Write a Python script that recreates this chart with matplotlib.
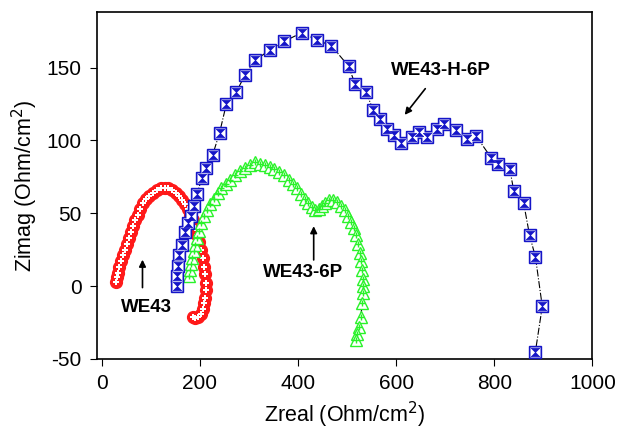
import matplotlib.pyplot as plt
import numpy as np
from matplotlib.path import Path

plt.rcParams['font.family'] = ['Liberation Sans', 'DejaVu Sans']
plt.rcParams['axes.unicode_minus'] = False

# WE43 (red)
we43_x = [30, 31, 33, 36, 40, 44, 48, 52, 56, 60, 64, 68, 73, 78, 84, 90, 97, 104, 112, 120,
          128, 136, 144, 151, 157, 163, 169, 175, 180, 185, 190, 195, 199, 203, 206, 209, 211,
          212, 212, 211, 209, 206, 202, 197, 191, 185]
we43_y = [3, 6, 9, 13, 17, 21, 25, 29, 33, 37, 41, 45, 49, 53, 57, 60, 62, 64, 66, 67,
          67, 67, 66, 64, 62, 59, 56, 53, 49, 45, 40, 35, 30, 25, 19, 13, 8,
          2, -3, -8, -12, -16, -19, -21, -22, -21]

# WE43-6P (green)
p6_x = [178, 180, 182, 184, 187, 190, 194, 198, 203, 208, 214, 221, 228, 236, 244, 253, 262,
        272, 282, 292, 302, 312, 322, 332, 342, 352, 362, 372, 381, 390, 398, 406, 414, 421,
        428, 435, 442, 449, 456, 463, 471, 479, 487, 495, 502, 508, 514, 519, 523, 526, 529,
        531, 532, 533, 533, 531, 528, 524, 520, 518]
p6_y = [7, 11, 15, 19, 24, 28, 33, 38, 43, 48, 52, 56, 60, 64, 67, 70, 73,
        76, 79, 81, 83, 85, 84, 83, 82, 80, 78, 76, 73, 70, 67, 63, 60, 57,
        54, 52, 53, 55, 57, 59, 59, 58, 55, 52, 48, 44, 40, 35, 29, 23, 17,
        11, 5, 0, -5, -12, -21, -28, -33, -37]

# WE43-H-6P (blue)
h6p_x = [154, 154, 156, 158, 164, 170, 176, 182, 188, 194, 204, 212, 226, 240, 254, 274, 292,
         313, 342, 372, 408, 438, 468, 503, 516, 539, 553, 567, 581, 595, 611, 632, 646, 664,
         684, 698, 722, 745, 763, 794, 808, 832, 840, 860, 872, 884, 898, 884]
h6p_y = [0, 7, 14, 21, 28, 37, 43, 48, 55, 63, 74, 81, 90, 105, 125, 133, 145,
         155, 162, 168, 174, 169, 165, 151, 139, 133, 121, 115, 108, 104, 98, 102, 106, 102,
         108, 111, 107, 101, 103, 88, 84, 80, 65, 57, 35, 20, -14, -45]

# hourglass marker
bowtie = Path([(-1, 1), (1, 1), (-1, -1), (1, -1), (-1, 1)],
              [Path.MOVETO, Path.LINETO, Path.LINETO, Path.LINETO, Path.CLOSEPOLY])

fig = plt.figure(figsize=(6.17, 4.36), dpi=100)
ax = fig.add_axes([0.157, 0.177, 0.803, 0.795])

# thin black connecting lines
for xs, ys in [(we43_x, we43_y), (p6_x, p6_y), (h6p_x, h6p_y)]:
    ax.plot(xs, ys, color='black', lw=0.8, ls='-.', zorder=1)

# red circles
ax.plot(we43_x, we43_y, 'o', ms=8.5, mfc='#ff1a1a', mec='#ff1a1a', zorder=2)
ax.plot(we43_x, we43_y, 'P', ms=4.5, mfc='white', mec='white', mew=0, zorder=2)

# green triangles
ax.plot(p6_x, p6_y, '^', ms=8, mfc='white', mec='#2af22a', mew=1.0, zorder=3)
ax.plot(p6_x, p6_y, '+', ms=4.5, mec='#2af22a', mew=1.0, zorder=3)

# blue squares
ax.plot(h6p_x, h6p_y, 's', ms=9, mfc='#1515c8', mec='#1515c8', zorder=4)
ax.plot(h6p_x, h6p_y, 's', ms=7, mfc='white', mec='none', zorder=4)
ax.plot(h6p_x, h6p_y, marker=bowtie, ls='none', ms=6, mfc='#1515c8', mec='#1515c8', mew=0.5, zorder=4)

ax.set_xlim(-10, 1000)
ax.set_ylim(-50, 188)
ax.set_xticks([0, 200, 400, 600, 800, 1000])
ax.set_yticks([-50, 0, 50, 100, 150])
ax.tick_params(direction='out', length=5, labelsize=15, pad=6)
for s in ax.spines.values():
    s.set_linewidth(1.2)

ax.set_xlabel('Zreal (Ohm/cm$^2$)', fontsize=15.5, labelpad=5)
ax.set_ylabel('Zimag (Ohm/cm$^2$)', fontsize=15.5, labelpad=5)

ax.annotate('', xy=(83, 20), xytext=(83, -3),
            arrowprops=dict(arrowstyle='-|>', color='black', lw=1.2, mutation_scale=10))
ax.text(92, -15, 'WE43', fontsize=13.5, fontweight='bold', ha='center', va='center')

ax.annotate('', xy=(432, 43), xytext=(432, 16),
            arrowprops=dict(arrowstyle='-|>', color='black', lw=1.2, mutation_scale=10))
ax.text(410, 9, 'WE43-6P', fontsize=13.5, fontweight='bold', ha='center', va='center')

ax.annotate('', xy=(614, 116), xytext=(663, 137),
            arrowprops=dict(arrowstyle='-|>', color='black', lw=1.2, mutation_scale=10))
ax.text(692, 148, 'WE43-H-6P', fontsize=13.5, fontweight='bold', ha='center', va='center')

fig.savefig('out.png', dpi=100)
